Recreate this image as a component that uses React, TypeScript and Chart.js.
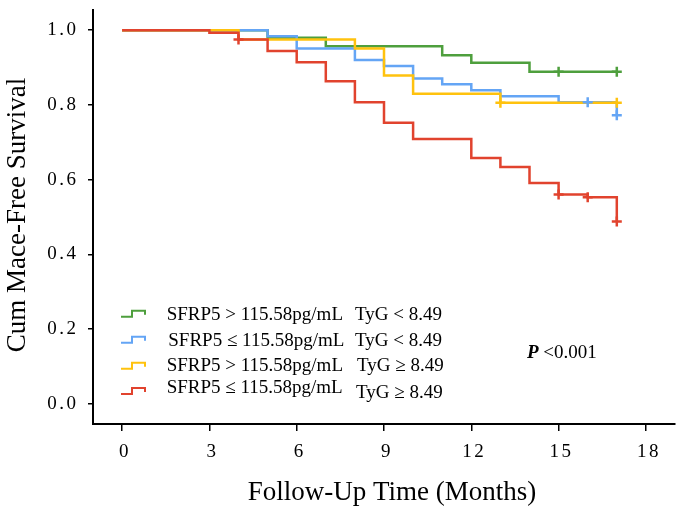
import React, { useEffect, useRef } from "react";
import { Chart, registerables } from "chart.js";

Chart.register(...registerables);

// ---------- data ----------
const xTicks = [0, 3, 6, 9, 12, 15, 18];
const yTicks = [0, 0.2, 0.4, 0.6, 0.8, 1.0];

const greenTimes = [0, 5, 7, 11, 12, 14, 17];
const greenSurv = [1.0, 0.98, 0.957, 0.933, 0.913, 0.889, 0.889];
const greenCensorTimes = [15, 17];
const greenCensorSurv = [0.889, 0.889];

const blueTimes = [0, 5, 6, 8, 9, 10, 11, 12, 13, 15, 17];
const blueSurv = [1.0, 0.984, 0.951, 0.92, 0.904, 0.871, 0.855, 0.839, 0.823, 0.807, 0.772];
const blueCensorTimes = [16, 17];
const blueCensorSurv = [0.807, 0.772];

const yellowTimes = [0, 4, 8, 9, 10, 13, 17];
const yellowSurv = [1.0, 0.975, 0.951, 0.879, 0.83, 0.806, 0.806];
const yellowCensorTimes = [13, 17];
const yellowCensorSurv = [0.806, 0.806];

const redTimes = [0, 3, 4, 5, 6, 7, 8, 9, 10, 12, 13, 14, 15, 16, 17];
const redSurv = [1.0, 0.993, 0.975, 0.944, 0.914, 0.863, 0.807, 0.752, 0.709, 0.658, 0.634, 0.591, 0.56, 0.553, 0.488];
const redCensorTimes = [4, 15, 16, 17];
const redCensorSurv = [0.975, 0.56, 0.553, 0.488];

const sfrpLabels = [
  "SFRP5 > 115.58pg/mL",
  "SFRP5 ≤ 115.58pg/mL",
  "SFRP5 > 115.58pg/mL",
  "SFRP5 ≤ 115.58pg/mL",
];
const tygLabels = ["TyG < 8.49", "TyG < 8.49", "TyG ≥ 8.49", "TyG ≥ 8.49"];

const xTitle = "Follow-Up Time (Months)";
const yTitle = "Cum Mace-Free Survival";
const pLabel = "P";
const pValueText = " <0.001";

// ---------- styles ----------
const GREEN = "#4E9F3D";
const BLUE = "#64A5F5";
const YELLOW = "#FFC20E";
const RED = "#E1432E";
const seriesColors = [GREEN, BLUE, YELLOW, RED];
const SERIF = '"Liberation Serif", "Times New Roman", serif';

// legend layout
const legendRowY = [315, 340.6, 366.4, 388.5];
const legendIconY = [313.7, 339.7, 365.7, 391];
const legendSfrpX = [166.7, 168.3, 166.7, 166.7];
const legendTygX = [355, 355, 357, 356];
const legendTygY = [315, 340.6, 366.4, 392.8];

const toPts = (t: number[], s: number[]) => t.map((v, i) => ({ x: v, y: s[i] }));

const stepDataset = (t: number[], s: number[], color: string, order: number) => ({
  data: toPts(t, s),
  showLine: true,
  stepped: "before" as const,
  borderColor: color,
  backgroundColor: color,
  borderWidth: 2.5,
  pointRadius: 0,
  fill: false,
  order,
});

const censorDataset = (t: number[], s: number[], color: string) => ({
  data: toPts(t, s),
  showLine: false,
  pointStyle: "cross" as const,
  pointRadius: 5,
  pointBorderWidth: 2.5,
  borderColor: color,
  backgroundColor: color,
  pointBorderColor: color,
  order: -1,
});

const tickSpacingPlugin = {
  id: "tickSpacing",
  beforeDraw(chart: any) {
    for (const id of ["x", "y"]) {
      const s: any = chart.scales[id];
      if (s && !s.__patched) {
        const orig = s.drawLabels.bind(s);
        s.drawLabels = (ca: any) => {
          const c = s.ctx;
          c.save();
          (c as any).letterSpacing = "2.5px";
          orig(ca);
          c.restore();
        };
        s.__patched = true;
      }
    }
  },
};

const overlayPlugin = {
  id: "overlay",
  afterDraw(chart: any) {
    const ctx: CanvasRenderingContext2D = chart.ctx;
    ctx.save();
    ctx.fillStyle = "#000";
    ctx.textBaseline = "middle";

    // axis titles
    ctx.font = `27px ${SERIF}`;
    ctx.textAlign = "center";
    ctx.fillText(xTitle, 392, 493);
    ctx.save();
    ctx.translate(18, 215);
    ctx.rotate(-Math.PI / 2);
    ctx.fillText(yTitle, 0, 0);
    ctx.restore();

    // legend
    ctx.textAlign = "left";
    ctx.font = `19px ${SERIF}`;
    for (let i = 0; i < sfrpLabels.length; i++) {
      const yc = legendIconY[i];
      ctx.strokeStyle = seriesColors[i];
      ctx.lineWidth = 2;
      ctx.beginPath();
      ctx.moveTo(121, yc + 3);
      ctx.lineTo(132, yc + 3);
      ctx.lineTo(132, yc - 3);
      ctx.lineTo(145, yc - 3);
      ctx.lineTo(145, yc + 1);
      ctx.stroke();
      ctx.fillStyle = "#000";
      ctx.fillText(sfrpLabels[i], legendSfrpX[i], legendRowY[i]);
      ctx.fillText(tygLabels[i], legendTygX[i], legendTygY[i]);
    }

    // p value
    ctx.font = `italic bold 19px ${SERIF}`;
    ctx.fillText(pLabel, 527, 353.3);
    const pw = ctx.measureText(pLabel).width;
    ctx.font = `19px ${SERIF}`;
    ctx.fillText(pValueText, 527 + pw, 353.3);

    ctx.restore();
  },
};

export default function App() {
  const ref = useRef<HTMLCanvasElement | null>(null);

  useEffect(() => {
    if (!ref.current) return;
    const chart = new Chart(ref.current, {
      type: "scatter",
      data: {
        datasets: [
          stepDataset(greenTimes, greenSurv, GREEN, 3),
          stepDataset(blueTimes, blueSurv, BLUE, 2),
          stepDataset(yellowTimes, yellowSurv, YELLOW, 1),
          stepDataset(redTimes, redSurv, RED, 0),
          censorDataset(greenCensorTimes, greenCensorSurv, GREEN),
          censorDataset(blueCensorTimes, blueCensorSurv, BLUE),
          censorDataset(yellowCensorTimes, yellowCensorSurv, YELLOW),
          censorDataset(redCensorTimes, redCensorSurv, RED),
        ] as any,
      },
      options: {
        animation: false,
        responsive: false,
        devicePixelRatio: 1,
        layout: { padding: { top: 10, right: 10, left: 0, bottom: 0 } },
        plugins: {
          legend: { display: false },
          tooltip: { enabled: false },
        },
        scales: {
          x: {
            type: "linear",
            min: -1,
            max: 19,
            afterBuildTicks: (s: any) => {
              s.ticks = xTicks.map((v) => ({ value: v }));
            },
            afterFit: (s: any) => {
              s.height = 91;
              s.paddingLeft = 0;
              s.paddingRight = 0;
            },
            ticks: {
              callback: (v: any) => String(v),
              font: { family: SERIF, size: 19 },
              color: "#000",
              padding: 10,
              labelOffset: 3,
              maxRotation: 0,
            },
            grid: {
              display: true,
              drawOnChartArea: false,
              drawTicks: true,
              tickLength: 7,
              color: "#000",
              lineWidth: 1.5,
            },
            border: { display: true, color: "#000", width: 2 },
          },
          y: {
            type: "linear",
            min: -0.054,
            max: 1.054,
            afterBuildTicks: (s: any) => {
              s.ticks = yTicks.map((v) => ({ value: v }));
            },
            afterFit: (s: any) => {
              s.width = 93;
              s.paddingTop = 0;
              s.paddingBottom = 0;
            },
            ticks: {
              callback: (v: any) => Number(v).toFixed(1),
              font: { family: SERIF, size: 19 },
              color: "#000",
              padding: 9.5,
            },
            grid: {
              display: true,
              drawOnChartArea: false,
              drawTicks: true,
              tickLength: 5,
              color: "#000",
              lineWidth: 1.5,
            },
            border: { display: true, color: "#000", width: 2 },
          },
        },
      } as any,
      plugins: [tickSpacingPlugin, overlayPlugin],
    });
    return () => chart.destroy();
  }, []);

  return (
    <div style={{ position: "absolute", left: 0, top: 0, width: 685, height: 515, background: "#fff" }}>
      <canvas ref={ref} width={685} height={515} style={{ display: "block" }} />
    </div>
  );
}
